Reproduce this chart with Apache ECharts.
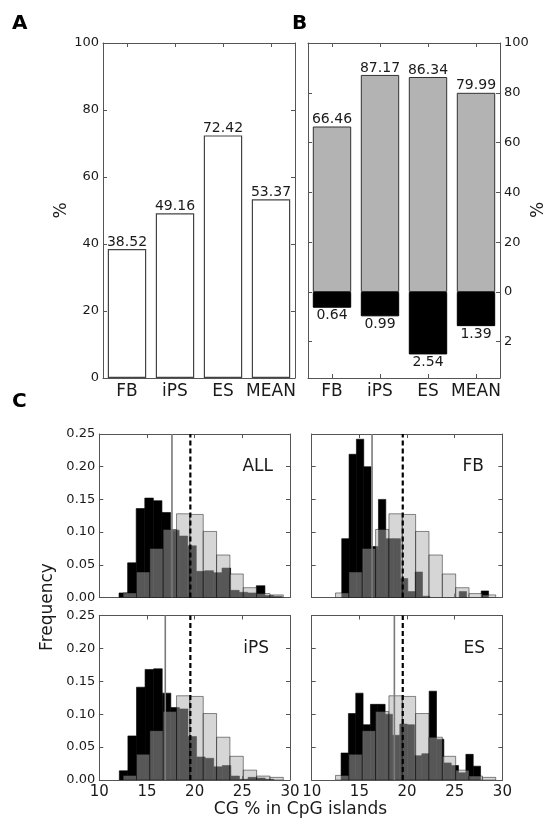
<!DOCTYPE html>
<html>
<head>
<meta charset="utf-8">
<script src="https://cdn.jsdelivr.net/npm/echarts@6/dist/echarts.min.js"></script>
<style>
  html, body { margin: 0; padding: 0; background: #fff; }
  #fig { width: 546px; height: 823px; }
</style>
</head>
<body>
<div id="fig"></div>
<script>
// ---- panel A / B: bar values ----
const barCategories = ['FB', 'iPS', 'ES', 'MEAN'];
const panelAValues = [38.52, 49.16, 72.42, 53.37];
const panelBUpperValues = [66.46, 87.17, 86.34, 79.99];
const panelBLowerValues = [0.64, 0.99, 2.54, 1.39];

// ---- panel C: histograms (bin start, bin width, frequency per bin) ----
const bgBinStart = 12.5, bgBinWidth = 1.4;
const bgFreq = [0.007, 0.039, 0.075, 0.104, 0.128, 0.127, 0.101, 0.065, 0.036, 0.015, 0.006, 0.004];
const bgMean = 19.55;

const allBinStart = 12.07, allBinWidth = 0.9;
const allFreq = [0.007, 0.053, 0.136, 0.152, 0.148, 0.130, 0.103, 0.094, 0.079, 0.040,
                 0.041, 0.038, 0.045, 0.011, 0.008, 0.007, 0.018, 0.003, 0.002, 0];
const allMean = 17.62;

const fbBinStart = 13.15, fbBinWidth = 0.77;
const fbFreq = [0.090, 0.219, 0.242, 0.200, 0.078, 0.150, 0.090, 0.090, 0.029, 0.009,
                0.039, 0.002, 0, 0, 0, 0, 0.009, 0, 0, 0.010];
const fbMean = 16.33;

const ipsBinStart = 12.1, ipsBinWidth = 0.9;
const ipsFreq = [0.014, 0.067, 0.141, 0.168, 0.169, 0.132, 0.110, 0.108, 0.066, 0.035,
                 0.033, 0.020, 0.022, 0.006, 0.001, 0.004, 0.003, 0.001, 0, 0];
const ipsMean = 16.92;

const esBinStart = 13.08, esBinWidth = 0.77;
const esFreq = [0.041, 0.101, 0.132, 0.084, 0.115, 0.115, 0.100, 0.068, 0.085, 0.084,
                0.037, 0.040, 0.135, 0.062, 0.026, 0.022, 0.011, 0.039, 0.021, 0];
const esMean = 18.67;

const histXTicks = [10, 15, 20, 25, 30];
const histYTicks = [0, 0.05, 0.10, 0.15, 0.20, 0.25];

// ---- styling ----
const FONT = 'DejaVu Sans';
const INK = '#1a1a1a';
const FRAME = '#555';

function binsOf(start, width, freq) {
  return freq.map((h, i) => [start + i * width, start + (i + 1) * width, h]);
}

function frameAxis(extra) {
  return Object.assign({
    axisLine: { show: true, onZero: false, lineStyle: { color: FRAME, width: 1 } },
    axisTick: { show: true, inside: true, length: 4, lineStyle: { color: FRAME, width: 1 } },
    splitLine: { show: false },
    axisLabel: { show: false }
  }, extra);
}

const catTick = { show: true, inside: true, length: 4, alignWithLabel: true, interval: 0, lineStyle: { color: FRAME } };
const catLabel = { show: true, interval: 0, fontSize: 17, fontFamily: FONT, color: INK, margin: 5 };

const grids = [
  { left: 103, top: 43, width: 192, height: 335 },        // A
  { left: 308, top: 43, width: 192, height: 249 },        // B, upper part
  { left: 308, top: 292, width: 192, height: 86 },        // B, lower part
  { left: 99.3, top: 434, width: 190.7, height: 163.5 },  // C: ALL
  { left: 311.7, top: 434, width: 190.7, height: 163.5 }, // C: FB
  { left: 99.3, top: 615.5, width: 190.7, height: 164.5 },// C: iPS
  { left: 311.7, top: 615.5, width: 190.7, height: 164.5 } // C: ES
];

const xAxes = [];
const yAxes = [];
const series = [];

// ---- panel A ----
xAxes.push(frameAxis({
  type: 'category', gridIndex: 0, data: barCategories, position: 'bottom',
  axisTick: catTick, axisLabel: catLabel
}));
xAxes.push(frameAxis({
  type: 'category', gridIndex: 0, data: barCategories, position: 'top', axisTick: catTick
}));
yAxes.push(frameAxis({
  type: 'value', gridIndex: 0, min: 0, max: 100, interval: 20, position: 'left',
  axisLabel: { show: true, fontSize: 13, fontFamily: FONT, color: INK, margin: 4 },
  name: '%', nameLocation: 'middle', nameGap: 28, nameRotate: 90,
  nameTextStyle: { fontSize: 17, fontFamily: FONT, color: INK }
}));
yAxes.push(frameAxis({ type: 'value', gridIndex: 0, min: 0, max: 100, interval: 20, position: 'right' }));
series.push({
  type: 'bar', xAxisIndex: 0, yAxisIndex: 0, data: panelAValues, barWidth: '80%',
  itemStyle: { color: '#ffffff', borderColor: '#444', borderWidth: 1.2 },
  label: { show: true, position: 'top', distance: 0, fontSize: 14, fontFamily: FONT, color: INK,
           formatter: p => p.value.toFixed(2) }
});

// ---- panel B ----
xAxes.push(frameAxis({
  type: 'category', gridIndex: 1, data: barCategories, position: 'top', axisTick: catTick
}));
xAxes.push(frameAxis({
  type: 'category', gridIndex: 2, data: barCategories, position: 'bottom',
  axisTick: catTick, axisLabel: catLabel
}));
yAxes.push(frameAxis({ type: 'value', gridIndex: 1, min: 0, max: 100, interval: 20, position: 'left' }));
yAxes.push(frameAxis({
  type: 'value', gridIndex: 1, min: 0, max: 100, interval: 20, position: 'right',
  axisLabel: { show: true, fontSize: 13, fontFamily: FONT, color: INK, margin: 4 }
}));
yAxes.push(frameAxis({ type: 'value', gridIndex: 2, min: 0, max: 3.5, interval: 2, inverse: true, position: 'left' }));
yAxes.push(frameAxis({
  type: 'value', gridIndex: 2, min: 0, max: 3.5, interval: 2, inverse: true, position: 'right',
  axisLabel: { show: true, fontSize: 13, fontFamily: FONT, color: INK, margin: 4,
               formatter: v => (v === 2 ? '2' : '') }
}));
series.push({
  type: 'bar', xAxisIndex: 2, yAxisIndex: 2, data: panelBUpperValues, barWidth: '80%',
  itemStyle: { color: '#b3b3b3', borderColor: '#333', borderWidth: 1 },
  label: { show: true, position: 'top', distance: 0, fontSize: 14, fontFamily: FONT, color: INK,
           formatter: p => p.value.toFixed(2) }
});
series.push({
  type: 'bar', xAxisIndex: 3, yAxisIndex: 4, data: panelBLowerValues, barWidth: '80%',
  itemStyle: { color: '#000000', borderColor: '#000', borderWidth: 1 },
  label: { show: true, position: 'bottom', distance: 1, fontSize: 14, fontFamily: FONT, color: INK,
           formatter: p => p.value.toFixed(2) }
});

// ---- panel C ----
function renderBin(style) {
  return function (params, api) {
    const h = api.value(2);
    if (!(h > 0)) return null;
    const a = api.coord([api.value(0), h]);
    const b = api.coord([api.value(1), 0]);
    return {
      type: 'rect',
      shape: { x: a[0], y: a[1], width: b[0] - a[0], height: b[1] - a[1] },
      style: style
    };
  };
}

const histPanels = [
  { grid: 3, start: allBinStart, width: allBinWidth, freq: allFreq, mean: allMean, xLabels: false, yLabels: true },
  { grid: 4, start: fbBinStart,  width: fbBinWidth,  freq: fbFreq,  mean: fbMean,  xLabels: false, yLabels: false },
  { grid: 5, start: ipsBinStart, width: ipsBinWidth, freq: ipsFreq, mean: ipsMean, xLabels: true,  yLabels: true },
  { grid: 6, start: esBinStart,  width: esBinWidth,  freq: esFreq,  mean: esMean,  xLabels: true,  yLabels: false }
];

histPanels.forEach(p => {
  const xi = xAxes.length;
  xAxes.push(frameAxis({
    type: 'value', gridIndex: p.grid, min: histXTicks[0], max: histXTicks[histXTicks.length - 1],
    interval: 5, position: 'bottom',
    axisLabel: { show: p.xLabels, fontSize: 15, fontFamily: FONT, color: INK, margin: 5 }
  }));
  xAxes.push(frameAxis({
    type: 'value', gridIndex: p.grid, min: histXTicks[0], max: histXTicks[histXTicks.length - 1],
    interval: 5, position: 'top'
  }));
  const yi = yAxes.length;
  yAxes.push(frameAxis({
    type: 'value', gridIndex: p.grid, min: histYTicks[0], max: histYTicks[histYTicks.length - 1],
    interval: 0.05, position: 'left',
    axisLabel: { show: p.yLabels, fontSize: 13, fontFamily: FONT, color: INK, margin: 4,
                 formatter: v => v.toFixed(2) }
  }));
  yAxes.push(frameAxis({
    type: 'value', gridIndex: p.grid, min: histYTicks[0], max: histYTicks[histYTicks.length - 1],
    interval: 0.05, position: 'right'
  }));

  series.push({
    type: 'custom', xAxisIndex: xi, yAxisIndex: yi, clip: true, z: 2,
    renderItem: renderBin({ fill: '#000000', stroke: '#000000', lineWidth: 0.6 }),
    encode: { x: [0, 1], y: 2 },
    data: binsOf(p.start, p.width, p.freq)
  });
  series.push({
    type: 'custom', xAxisIndex: xi, yAxisIndex: yi, clip: true, z: 3,
    renderItem: renderBin({ fill: 'rgba(173,173,173,0.5)', stroke: 'rgba(0,0,0,0.45)', lineWidth: 1 }),
    encode: { x: [0, 1], y: 2 },
    data: binsOf(bgBinStart, bgBinWidth, bgFreq)
  });
  series.push({
    type: 'line', xAxisIndex: xi, yAxisIndex: yi, z: 5, silent: true, symbol: 'none',
    lineStyle: { color: '#7a7a7a', width: 1.6 },
    data: [[p.mean, histYTicks[0]], [p.mean, histYTicks[histYTicks.length - 1]]]
  });
  series.push({
    type: 'line', xAxisIndex: xi, yAxisIndex: yi, z: 6, silent: true, symbol: 'none',
    lineStyle: { color: '#000000', width: 2.2, type: [5, 3] },
    data: [[bgMean, histYTicks[0]], [bgMean, histYTicks[histYTicks.length - 1]]]
  });
});

function txt(x, y, text, font, extra) {
  return {
    type: 'text', x: x, y: y, silent: true,
    style: Object.assign({ x: 0, y: 0, text: text, font: font, fill: INK }, extra || {})
  };
}

const graphics = [
  txt(12, 14, 'A', 'bold 20px "DejaVu Sans"', { fill: '#000' }),
  txt(292, 14, 'B', 'bold 20px "DejaVu Sans"', { fill: '#000' }),
  txt(12, 392, 'C', 'bold 20px "DejaVu Sans"', { fill: '#000' }),
  Object.assign(txt(539, 210, '%', '17px "DejaVu Sans"', { textAlign: 'center', verticalAlign: 'middle' }), { rotation: Math.PI / 2 }),
  Object.assign(txt(48, 607, 'Frequency', '17px "DejaVu Sans"', { textAlign: 'center', verticalAlign: 'middle' }), { rotation: Math.PI / 2 }),
  txt(300.5, 810, 'CG % in CpG islands', '17px "DejaVu Sans"', { textAlign: 'center', verticalAlign: 'middle' }),
  txt(273, 467, 'ALL', '17px "DejaVu Sans"', { textAlign: 'right', verticalAlign: 'middle' }),
  txt(484, 467, 'FB', '17px "DejaVu Sans"', { textAlign: 'right', verticalAlign: 'middle' }),
  txt(269, 649, 'iPS', '17px "DejaVu Sans"', { textAlign: 'right', verticalAlign: 'middle' }),
  txt(485, 649, 'ES', '17px "DejaVu Sans"', { textAlign: 'right', verticalAlign: 'middle' })
];

const chart = echarts.init(document.getElementById('fig'), null, { renderer: 'canvas' });
chart.setOption({
  backgroundColor: '#ffffff',
  animation: false,
  textStyle: { fontFamily: FONT },
  grid: grids,
  xAxis: xAxes,
  yAxis: yAxes,
  series: series,
  graphic: graphics
});
</script>
</body>
</html>
